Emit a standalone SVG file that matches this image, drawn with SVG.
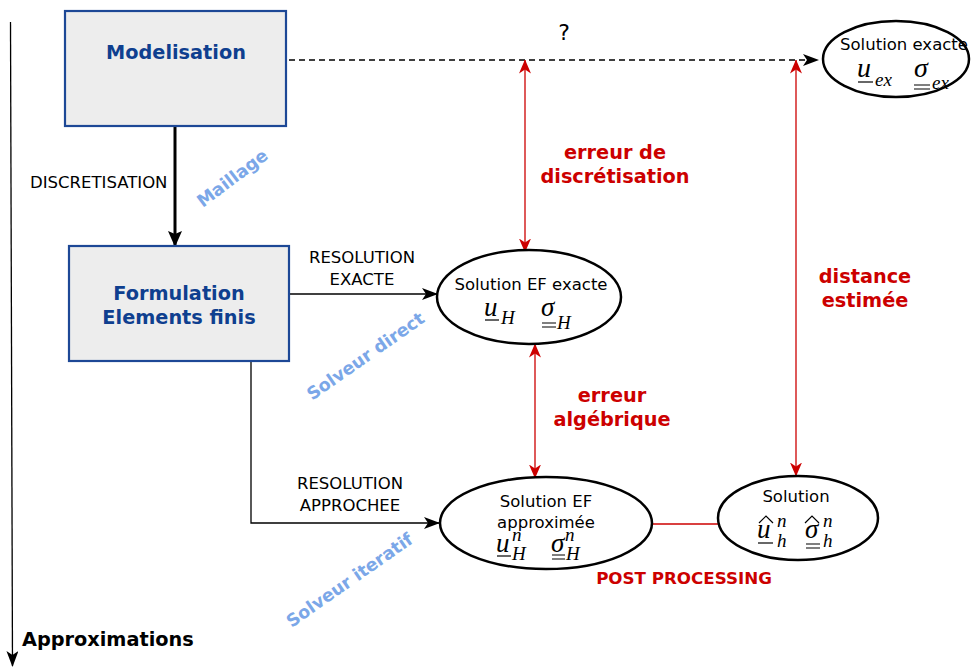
<svg xmlns="http://www.w3.org/2000/svg" width="980" height="670" viewBox="0 0 980 670">
<defs>
<marker id="ab" markerUnits="userSpaceOnUse" markerWidth="16" markerHeight="12" viewBox="0 0 16 12" refX="15" refY="6" orient="auto"><path d="M0,0 L16,6 L0,12 L4,6 z" fill="#000"/></marker>
<marker id="abk" markerUnits="userSpaceOnUse" markerWidth="16" markerHeight="14" viewBox="0 0 16 14" refX="15" refY="7" orient="auto"><path d="M0,0 L16,7 L0,14 L3,7 z" fill="#000"/></marker>
<marker id="ar" markerUnits="userSpaceOnUse" markerWidth="14" markerHeight="12" viewBox="0 0 14 12" refX="13.5" refY="6" orient="auto-start-reverse"><path d="M0,0 L14,6 L0,12 L4,6 z" fill="#cc0000"/></marker>
</defs>
<style>
.box{fill:#ededed;stroke:#1d4896;stroke-width:2.2}
.bt{font-family:"DejaVu Sans",sans-serif;font-weight:bold;font-size:19.3px;fill:#0f3f8f;text-anchor:middle}
.el{fill:#fff;stroke:#000;stroke-width:2.5}
.lb{font-family:"DejaVu Sans",sans-serif;font-size:16.5px;fill:#000;text-anchor:middle}
.sm{font-family:"DejaVu Sans",sans-serif;font-size:16.5px;fill:#000}
.red{font-family:"DejaVu Sans",sans-serif;font-weight:bold;font-size:19.3px;fill:#cc0000;text-anchor:middle}
.pp{font-family:"DejaVu Sans",sans-serif;font-weight:bold;font-size:16.7px;fill:#cc0000;text-anchor:middle}
.blue{font-family:"DejaVu Sans",sans-serif;font-weight:bold;font-size:17.5px;fill:#7ba7e8;text-anchor:middle}
.m{font-family:"Liberation Serif","DejaVu Serif",serif;font-style:italic;font-size:27px;fill:#000}
.mb{font-family:"Liberation Serif","DejaVu Serif",serif;font-style:italic;font-size:28px;fill:#000}
.ms{font-family:"Liberation Serif","DejaVu Serif",serif;font-style:italic;font-size:19px;fill:#000}
.ul{stroke:#000;stroke-width:1.2;fill:none}
.cb{stroke:#000;stroke-width:1.3;fill:none}
.cr{stroke:#cc0000;stroke-width:1.3;fill:none}
</style>

<g id="connectors">
<path d="M10.5,22 L12.5,666" class="cb" marker-end="url(#ab)"/>
<path d="M175,126 L175,246" stroke="#000" stroke-width="3" fill="none" marker-end="url(#abk)"/>
<path d="M289,60 L818,60" class="cb" stroke-dasharray="6,4" marker-end="url(#ab)"/>
<path d="M290,294 L437,294" class="cb" marker-end="url(#ab)"/>
<path d="M251,361 L251,523 L439,523" class="cb" marker-end="url(#ab)"/>
<path d="M525,60 L525,252" class="cr" marker-start="url(#ar)" marker-end="url(#ar)"/>
<path d="M796,60 L796,476" class="cr" marker-start="url(#ar)" marker-end="url(#ar)"/>
<path d="M535,344 L535,478" class="cr" marker-start="url(#ar)" marker-end="url(#ar)"/>
<path d="M653,524 L718,524" class="cr"/>
</g>

<g id="modelisation">
<rect x="65" y="11" width="221" height="115" class="box"/>
<text x="176" y="59" class="bt">Modelisation</text>
</g>

<g id="formulation">
<rect x="69" y="246" width="220" height="115" class="box"/>
<text x="179" y="300" class="bt">Formulation</text>
<text x="179" y="324" class="bt">Elements finis</text>
</g>

<g id="sol-exacte">
<ellipse cx="896" cy="59" rx="73" ry="38" class="el"/>
<text x="904" y="50" class="lb">Solution exacte</text>
<text x="857" y="77" class="mb">u</text>
<path d="M858,82 L873,82" class="ul"/>
<text x="875" y="86" class="ms">ex</text>
<text x="914" y="77" class="mb">σ</text>
<path d="M914,85 L930,85 M914,89 L930,89" class="ul"/>
<text x="932" y="89" class="ms">ex</text>
</g>

<g id="sol-ef-exacte">
<ellipse cx="529" cy="297" rx="92" ry="47" class="el"/>
<text x="531" y="290" class="lb">Solution EF exacte</text>
<text x="484" y="316" class="m">u</text>
<path d="M485,320 L499,320" class="ul"/>
<text x="501" y="324" class="ms">H</text>
<text x="541" y="316" class="m">σ</text>
<path d="M542,323 L556,323 M542,327 L556,327" class="ul"/>
<text x="557" y="329" class="ms">H</text>
</g>

<g id="sol-ef-approx">
<ellipse cx="546" cy="523" rx="106" ry="46" class="el"/>
<text x="546" y="507" class="lb">Solution EF</text>
<text x="546" y="528" class="lb">approximée</text>
<text x="496" y="552" class="m">u</text>
<path d="M497,556 L511,556" class="ul"/>
<text x="512" y="541" class="ms">n</text>
<text x="512" y="560" class="ms">H</text>
<text x="551" y="552" class="m">σ</text>
<path d="M552,555 L565,555 M552,559 L565,559" class="ul"/>
<text x="565" y="541" class="ms">n</text>
<text x="566" y="560" class="ms">H</text>
</g>

<g id="sol-post">
<ellipse cx="798" cy="518" rx="80" ry="42" class="el"/>
<text x="796" y="502" class="lb">Solution</text>
<path d="M759,523 L766,516 L773,523" class="ul"/>
<text x="757" y="538" class="m">u</text>
<path d="M758,543 L773,543" class="ul"/>
<text x="777" y="527" class="ms">n</text>
<text x="777" y="547" class="ms">h</text>
<path d="M805,523 L812,516 L819,523" class="ul"/>
<text x="805" y="538" class="m">σ</text>
<path d="M806,544 L820,544 M806,548 L820,548" class="ul"/>
<text x="823" y="527" class="ms">n</text>
<text x="823" y="547" class="ms">h</text>
</g>

<g id="labels">
<text x="564" y="40" font-family="DejaVu Sans,sans-serif" font-size="22" text-anchor="middle">?</text>
<text x="30" y="188" class="sm">DISCRETISATION</text>
<text x="362" y="263" class="sm" text-anchor="middle">RESOLUTION</text>
<text x="362" y="285" class="sm" text-anchor="middle">EXACTE</text>
<text x="350" y="489" class="sm" text-anchor="middle">RESOLUTION</text>
<text x="350" y="511" class="sm" text-anchor="middle">APPROCHEE</text>
<text x="615" y="159" class="red">erreur de</text>
<text x="615" y="183" class="red">discrétisation</text>
<text x="865" y="283" class="red">distance</text>
<text x="865" y="307" class="red">estimée</text>
<text x="612" y="402" class="red">erreur</text>
<text x="612" y="426" class="red">algébrique</text>
<text x="684" y="584" class="pp">POST PROCESSING</text>
<text x="22" y="646" font-family="DejaVu Sans,sans-serif" font-weight="bold" font-size="19.3">Approximations</text>
<text class="blue" transform="translate(236,183) rotate(-37)">Maillage</text>
<text class="blue" transform="translate(369,361) rotate(-35)">Solveur direct</text>
<text class="blue" transform="translate(353,585) rotate(-35)">Solveur iteratif</text>
</g>
</svg>
